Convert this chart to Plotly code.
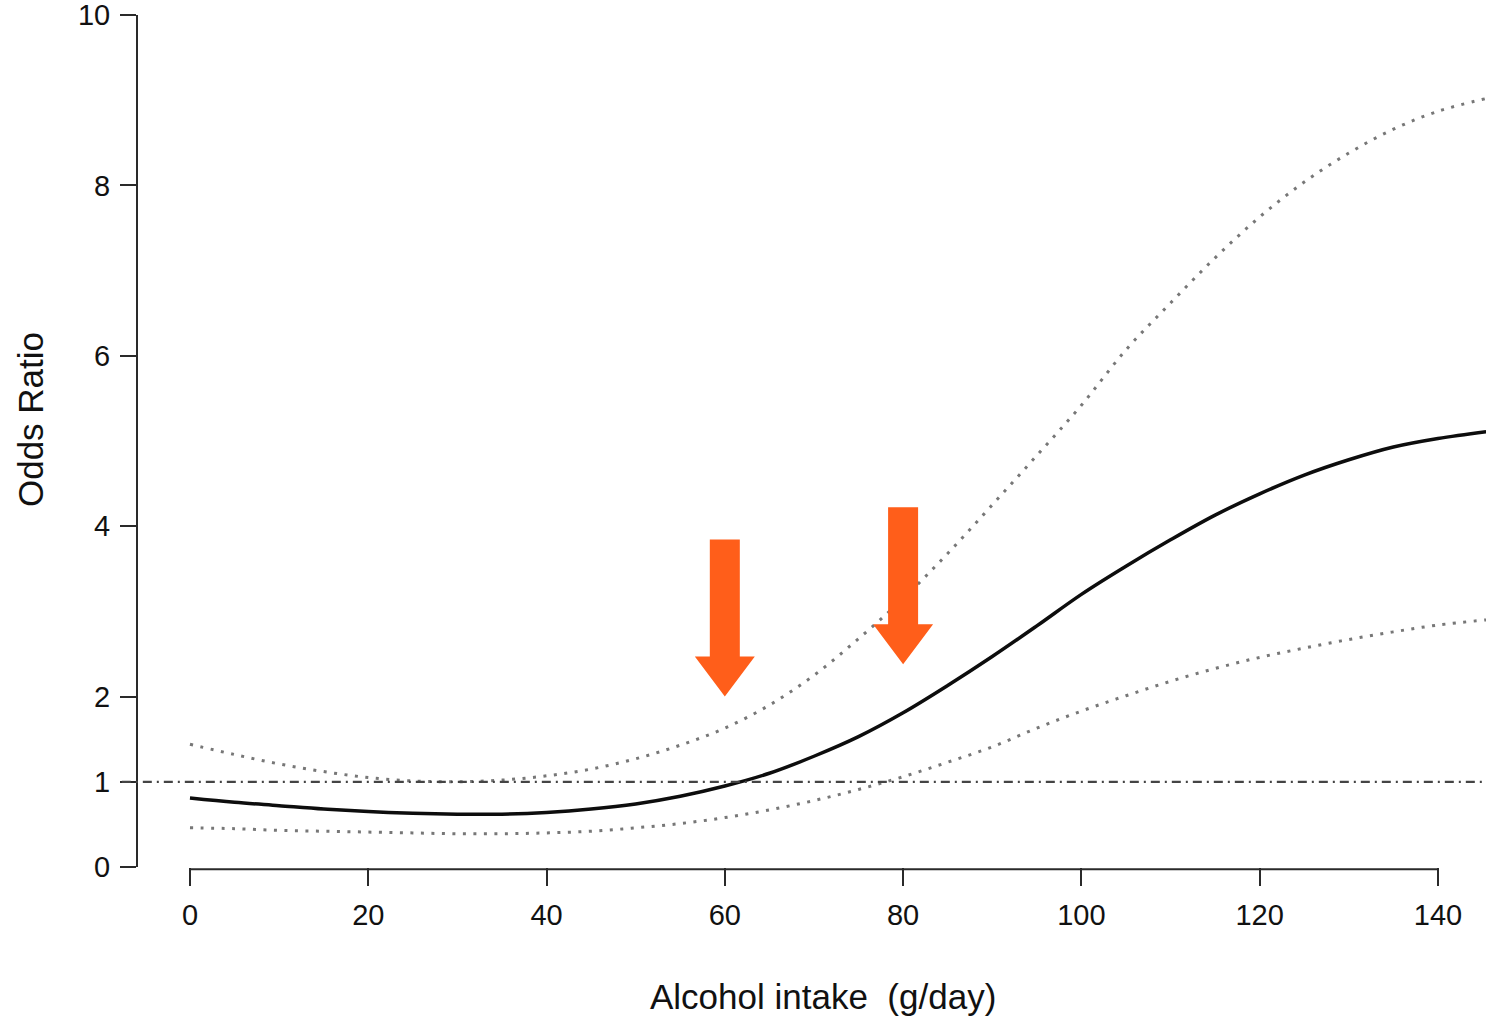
import plotly.graph_objects as go

# Alcohol intake (g/day)
alcohol = [0, 5, 10, 15, 20, 25, 30, 35, 40, 45, 50, 55, 60, 65, 70, 75, 80, 85, 90,
           95, 100, 105, 110, 115, 120, 125, 130, 135, 140, 145.4]
odds_ratio = [0.81, 0.76, 0.72, 0.68, 0.65, 0.63, 0.62, 0.62, 0.64, 0.68, 0.74, 0.83, 0.95,
              1.10, 1.30, 1.53, 1.81, 2.13, 2.47, 2.83, 3.20, 3.53, 3.84, 4.13, 4.38,
              4.60, 4.78, 4.93, 5.03, 5.11]
upper_ci = [1.44, 1.32, 1.21, 1.12, 1.05, 1.01, 1.00, 1.02, 1.07, 1.15, 1.27, 1.43, 1.63,
            1.90, 2.25, 2.68, 3.15, 3.68, 4.25, 4.83, 5.42, 6.07, 6.62, 7.15, 7.63,
            8.04, 8.38, 8.66, 8.87, 9.02]
lower_ci = [0.46, 0.45, 0.43, 0.42, 0.41, 0.40, 0.39, 0.39, 0.40, 0.42, 0.46, 0.51, 0.58,
            0.67, 0.78, 0.91, 1.06, 1.23, 1.41, 1.63, 1.83, 2.01, 2.18, 2.33, 2.46,
            2.57, 2.67, 2.76, 2.84, 2.90]
reference_or = 1
x_ticks = [0, 20, 40, 60, 80, 100, 120, 140]
y_ticks = [0, 1, 2, 4, 6, 8, 10]
# arrows: x position and odds-ratio level of arrow tips
arrow_x = [60, 80]
arrow_tip_y = [2.0, 2.38]

FONT = "Arial, Liberation Sans, sans-serif"
TXT = "#111111"
AXC = "#2a2a2a"

fig = go.Figure()
for ci in (upper_ci, lower_ci):
    fig.add_trace(go.Scatter(x=alcohol, y=ci, mode="lines",
                             line=dict(color="#777777", width=3, dash="3px,7.5px", shape="spline"),
                             hoverinfo="skip", showlegend=False))
fig.add_trace(go.Scatter(x=alcohol, y=odds_ratio, mode="lines",
                         line=dict(color="#0d0d0d", width=3.5, shape="spline"),
                         showlegend=False))

shapes = []
# reference line OR = 1 (dash-dot)
shapes.append(dict(type="line", xref="paper", x0=-0.012, x1=1, yref="y",
                   y0=reference_or, y1=reference_or,
                   line=dict(color="#444444", width=2.2, dash="9px,5px,2px,5px")))
# detached x-axis line from first to last tick
shapes.append(dict(type="line", xref="x", x0=x_ticks[0], x1=x_ticks[-1],
                   yref="paper", y0=-0.0025, y1=-0.0025,
                   line=dict(color=AXC, width=2)))
# orange arrows
arrow_path = "M -15 157 L 15 157 L 15 40 L 30 40 L 0 0 L -30 40 L -15 40 Z"
for ax_, ay_ in zip(arrow_x, arrow_tip_y):
    shapes.append(dict(type="path", xref="x", yref="y",
                       xsizemode="pixel", ysizemode="pixel",
                       xanchor=ax_, yanchor=ay_, path=arrow_path,
                       fillcolor="#FF5E1A", line=dict(width=0)))

fig.update_layout(
    width=1486, height=1016,
    margin=dict(l=138, r=0, t=15, b=149),
    paper_bgcolor="white", plot_bgcolor="white",
    font=dict(family=FONT, color=TXT),
    xaxis=dict(range=[-5.83, 145.39], tickvals=x_ticks, ticktext=[str(v) for v in x_ticks],
               showgrid=False, zeroline=False, showline=False,
               ticks="outside", ticklen=18, tickwidth=2, tickcolor=AXC,
               tickfont=dict(size=29, color=TXT, family=FONT), ticklabelstandoff=4),
    yaxis=dict(range=[0, 10.0005], tickvals=y_ticks, ticktext=[str(v) for v in y_ticks],
               showgrid=False, zeroline=False, showline=True, linewidth=2, linecolor=AXC,
               ticks="outside", ticklen=16, tickwidth=2, tickcolor=AXC,
               ticklabeloverflow="allow",
               tickfont=dict(size=29, color=TXT, family=FONT), ticklabelstandoff=4),
    shapes=shapes,
    annotations=[
        dict(text="Alcohol intake  (g/day)", xref="paper", yref="paper",
             x=0.5085, y=-0.1518, xanchor="center", yanchor="middle", showarrow=False,
             font=dict(size=35, color=TXT, family=FONT)),
        dict(text="Odds Ratio", xref="paper", yref="paper", textangle=-90,
             x=-0.0793, y=0.5247, xanchor="center", yanchor="middle", showarrow=False,
             font=dict(size=35, color=TXT, family=FONT)),
    ],
)

fig.write_html("out.html")
